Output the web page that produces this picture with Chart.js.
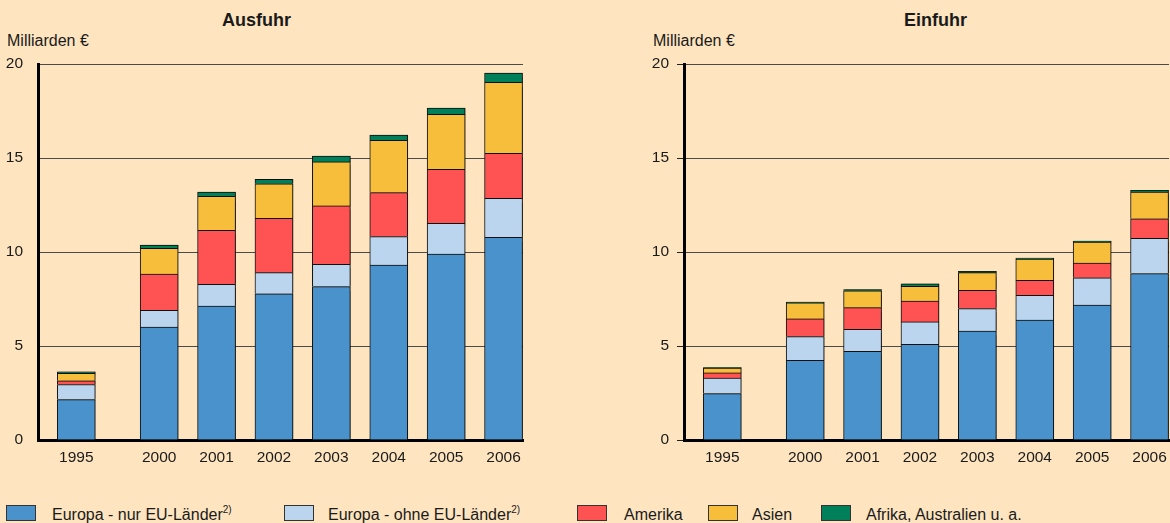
<!DOCTYPE html>
<html lang="de">
<head>
<meta charset="utf-8">
<title>Ausfuhr und Einfuhr nach Ländergruppen</title>
<script src="https://cdn.jsdelivr.net/npm/chart.js@4.4.0/dist/chart.umd.min.js"></script>
<style>
	html, body { margin: 0; padding: 0; }
	body {
		width: 1170px; height: 523px; overflow: hidden; position: relative;
		background: #fee5c0; color: #1a1a1a;
		font-family: "Liberation Sans", Arial, sans-serif;
	}
	.panel { position: absolute; top: 0; width: 560px; height: 480px; }
	.panel canvas { position: absolute; left: 0; top: 0; }
	.title { position: absolute; top: 11px; font-weight: bold; font-size: 18px; line-height: 18px; white-space: nowrap; }
	.unit { position: absolute; top: 33px; left: 7px; font-size: 16px; line-height: 16px; white-space: nowrap; }
	.legend-item { position: absolute; top: 505px; height: 16px; }
	.legend-box { position: absolute; top: 0; width: 28px; height: 14px; border: 1px solid #333; }
	.legend-text { position: absolute; top: 2px; font-size: 16px; line-height: 16px; white-space: nowrap; }
	.legend-text sup { font-size: 10px; line-height: 0; vertical-align: 7px; }
</style>
</head>
<body>

<div class="panel" style="left:0px">
	<div class="title" style="left:222px">Ausfuhr</div>
	<div class="unit">Milliarden €</div>
	<canvas id="ausfuhr" width="560" height="480"></canvas>
</div>
<div class="panel" style="left:646px">
	<div class="title" style="left:258px">Einfuhr</div>
	<div class="unit">Milliarden €</div>
	<canvas id="einfuhr" width="560" height="480"></canvas>
</div>
<div id="legend"></div>

<script>
// Jahre und Werte in Milliarden €
const years = ['1995', '2000', '2001', '2002', '2003', '2004', '2005', '2006'];

const ausfuhrEU      = [2.15, 6.00, 7.13, 7.78, 8.16, 9.31, 9.89, 10.78];
const ausfuhrNonEU   = [0.80, 0.90, 1.15, 1.12, 1.19, 1.51, 1.64, 2.07];
const ausfuhrAmerika = [0.20, 1.93, 2.87, 2.89, 3.10, 2.34, 2.87, 2.40];
const ausfuhrAsien   = [0.40, 1.37, 1.81, 1.84, 2.34, 2.78, 2.92, 3.77];
const ausfuhrAfrika  = [0.08, 0.17, 0.23, 0.24, 0.31, 0.28, 0.34, 0.50];

const einfuhrEU      = [2.47, 4.24, 4.72, 5.09, 5.80, 6.38, 7.18, 8.85];
const einfuhrNonEU   = [0.83, 1.26, 1.17, 1.19, 1.19, 1.32, 1.45, 1.88];
const einfuhrAmerika = [0.27, 0.94, 1.15, 1.11, 0.97, 0.79, 0.78, 1.04];
const einfuhrAsien   = [0.26, 0.85, 0.90, 0.78, 0.94, 1.14, 1.12, 1.42];
const einfuhrAfrika  = [0.02, 0.05, 0.06, 0.14, 0.07, 0.05, 0.05, 0.09];

const yTicks = [0, 5, 10, 15, 20];

const seriesNames = ['Europa - nur EU-Länder', 'Europa - ohne EU-Länder', 'Amerika', 'Asien', 'Afrika, Australien u. a.'];
const seriesNotes = ['2)', '2)', '', '', ''];
const seriesColors = ['#4a92cb', '#bbd5ef', '#ff5252', '#f6be3a', '#00805a'];

// 1995 steht etwas abseits der Jahresreihe 2000-2006
const gapAfterFirst = 0.444;
const slots = years.map((y, i) => i === 0 ? 0 : i + gapAfterFirst);

// leichter Schatten rechts neben den Säulen
const barShadow = {
	id: 'barShadow',
	beforeDatasetsDraw(chart) {
		const c = chart.ctx;
		c.save();
		c.shadowColor = 'rgba(0,0,0,0.4)';
		c.shadowBlur = 1.5;
		c.shadowOffsetX = 1.5;
		c.shadowOffsetY = 0;
	},
	afterDatasetsDraw(chart) {
		chart.ctx.restore();
	}
};

function makeChart(id, series, withTicks) {
	let datasets = [];
	for (let s = 0; s < series.length; s++) {
		datasets.push({
			label: seriesNames[s],
			data: series[s].map((v, i) => ({ x: slots[i], y: v })),
			backgroundColor: seriesColors[s],
			borderColor: '#111',
			borderWidth: 1,
			borderSkipped: 'start',
			barThickness: 38
		});
	}

	return new Chart(document.getElementById(id), {
		type: 'bar',
		data: { datasets: datasets },
		plugins: [barShadow],
		options: {
			responsive: false,
			animation: false,
			events: [],
			layout: { padding: { top: 64, right: 37, bottom: 0, left: 0 } },
			plugins: {
				legend: { display: false },
				title: { display: false },
				tooltip: { enabled: false }
			},
			scales: {
				x: {
					type: 'linear',
					stacked: true,
					offset: false,
					min: -0.667,
					max: 7.783,
					afterBuildTicks: axis => { axis.ticks = slots.map(v => ({ value: v })); },
					afterFit: axis => { axis.height = 40; },
					grid: { display: false, drawTicks: false, offset: false },
					border: { display: true, color: '#000', width: 3 },
					ticks: {
						autoSkip: false,
						maxRotation: 0,
						padding: 8,
						color: '#1a1a1a',
						font: { family: 'Liberation Sans', size: 15.5 },
						callback: (value, index) => years[index]
					}
				},
				y: {
					stacked: true,
					min: 0,
					max: 20,
					afterBuildTicks: axis => { axis.ticks = yTicks.map(v => ({ value: v })); },
					afterFit: axis => { axis.width = 38; },
					grid: {
						color: '#4a4a4a',
						lineWidth: 1,
						drawTicks: withTicks,
						tickLength: 7,
						tickColor: '#222'
					},
					border: { display: true, color: '#000', width: 3 },
					ticks: {
						padding: withTicks ? 8 : 15,
						color: '#1a1a1a',
						font: { family: 'Liberation Sans', size: 15.5 }
					}
				}
			}
		}
	});
}

makeChart('ausfuhr', [ausfuhrEU, ausfuhrNonEU, ausfuhrAmerika, ausfuhrAsien, ausfuhrAfrika], false);
makeChart('einfuhr', [einfuhrEU, einfuhrNonEU, einfuhrAmerika, einfuhrAsien, einfuhrAfrika], true);

// Legende unter beiden Diagrammen
const legendPlace = [[6, 52], [284, 328], [577, 624], [708, 752], [821, 866]];
const legend = document.getElementById('legend');
for (let s = 0; s < seriesNames.length; s++) {
	let item = document.createElement('div');
	item.className = 'legend-item';
	item.style.left = legendPlace[s][0] + 'px';
	let box = document.createElement('div');
	box.className = 'legend-box';
	box.style.background = seriesColors[s];
	let text = document.createElement('div');
	text.className = 'legend-text';
	text.style.left = (legendPlace[s][1] - legendPlace[s][0]) + 'px';
	text.innerHTML = seriesNames[s] + (seriesNotes[s] ? '<sup>' + seriesNotes[s] + '</sup>' : '');
	item.appendChild(box);
	item.appendChild(text);
	legend.appendChild(item);
}
</script>
</body>
</html>
